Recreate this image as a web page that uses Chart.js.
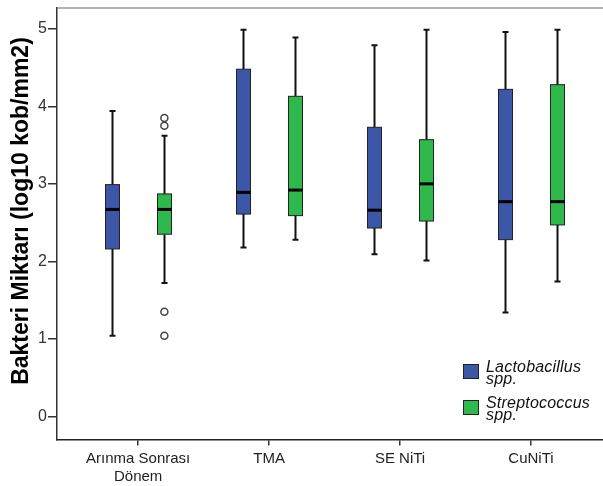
<!DOCTYPE html>
<html lang="tr">
<head>
<meta charset="UTF-8">
<title>Bakteri Miktarı</title>
<script src="https://cdn.jsdelivr.net/npm/chart.js"></script>
<style>
  html, body { margin: 0; padding: 0; background: #fff; overflow: hidden; }
  .wrap { position: relative; width: 603px; height: 486px; }
</style>
</head>
<body>
<div class="wrap"><canvas id="chart"></canvas></div>
<script>
// groups on the x axis
const groups = [['Arınma Sonrası', 'Dönem'], 'TMA', 'SE NiTi', 'CuNiTi'];
const yTicks = [0, 1, 2, 3, 4, 5];

// Lactobacillus spp. (min, Q1, median, Q3, max)
const lactoMin = [1.04, 2.18, 2.09, 1.34];
const lactoQ1  = [2.16, 2.61, 2.43, 2.28];
const lactoMed = [2.67, 2.89, 2.66, 2.77];
const lactoQ3  = [2.99, 4.48, 3.73, 4.22];
const lactoMax = [3.94, 4.99, 4.79, 4.96];

// Streptococcus spp.
const streptoMin = [1.72, 2.28, 2.01, 1.74];
const streptoQ1  = [2.35, 2.59, 2.52, 2.47];
const streptoMed = [2.67, 2.92, 3.00, 2.77];
const streptoQ3  = [2.87, 4.13, 3.57, 4.28];
const streptoMax = [3.62, 4.89, 4.99, 4.99];

// outliers (Streptococcus, first group)
const outlierGroup = [0, 0, 0, 0];
const outlierValue = [3.85, 3.75, 1.35, 1.04];

const series = [
    { name: 'Lactobacillus', sub: 'spp.', color: '#3c56a8', offset: -0.2,
      min: lactoMin, q1: lactoQ1, med: lactoMed, q3: lactoQ3, max: lactoMax },
    { name: 'Streptococcus', sub: 'spp.', color: '#2fb84b', offset: 0.2,
      min: streptoMin, q1: streptoQ1, med: streptoMed, q3: streptoQ3, max: streptoMax }
];

const FONT = '"Liberation Sans", Arial, sans-serif';

const boxPlugin = {
    id: 'boxes',
    afterDatasetsDraw(chart) {
        const ctx = chart.ctx;
        const x = chart.scales.x, y = chart.scales.y;
        const half = 7, cap = 3;
        ctx.save();
        series.forEach(s => {
            groups.forEach((g, i) => {
                const cx = Math.round(x.getPixelForValue(i + s.offset)) + 0.5;
                const pMin = y.getPixelForValue(s.min[i]);
                const pQ1 = y.getPixelForValue(s.q1[i]);
                const pMed = y.getPixelForValue(s.med[i]);
                const pQ3 = y.getPixelForValue(s.q3[i]);
                const pMax = y.getPixelForValue(s.max[i]);

                ctx.strokeStyle = '#111';
                ctx.lineWidth = 2;
                ctx.beginPath();
                ctx.moveTo(cx, pMax); ctx.lineTo(cx, pQ3);
                ctx.moveTo(cx, pQ1); ctx.lineTo(cx, pMin);
                ctx.moveTo(cx - cap, pMax); ctx.lineTo(cx + cap, pMax);
                ctx.moveTo(cx - cap, pMin); ctx.lineTo(cx + cap, pMin);
                ctx.stroke();

                ctx.fillStyle = s.color;
                ctx.fillRect(cx - half, pQ3, half * 2, pQ1 - pQ3);
                ctx.lineWidth = 1;
                ctx.strokeStyle = '#222';
                ctx.strokeRect(cx - half, pQ3, half * 2, pQ1 - pQ3);

                ctx.lineWidth = 3;
                ctx.strokeStyle = '#000';
                ctx.beginPath();
                ctx.moveTo(cx - half, pMed); ctx.lineTo(cx + half, pMed);
                ctx.stroke();
            });
        });
        ctx.restore();
    },
    afterDraw(chart) {
        const ctx = chart.ctx;
        const a = chart.chartArea;
        ctx.save();
        // top frame line
        ctx.strokeStyle = '#9a9a9a';
        ctx.lineWidth = 1.5;
        ctx.beginPath();
        ctx.moveTo(a.left, a.top); ctx.lineTo(a.right, a.top);
        ctx.stroke();

        // y axis title
        ctx.translate(22, 211);
        ctx.rotate(-Math.PI / 2);
        ctx.fillStyle = '#000';
        ctx.font = 'bold 23px ' + FONT;
        ctx.textAlign = 'center';
        ctx.textBaseline = 'middle';
        ctx.fillText('Bakteri Miktarı (log10 kob/mm2)', 0, 0);
        ctx.restore();

        // legend
        ctx.save();
        const rows = [{ top: 364, base: 372 }, { top: 400, base: 408 }];
        series.forEach((s, k) => {
            const r = rows[k];
            ctx.fillStyle = s.color;
            ctx.fillRect(463.5, r.top + 0.5, 15, 14);
            ctx.strokeStyle = '#222';
            ctx.lineWidth = 1;
            ctx.strokeRect(463.5, r.top + 0.5, 15, 14);
            ctx.fillStyle = '#111';
            ctx.font = 'italic 16px ' + FONT;
            ctx.letterSpacing = '0.2px';
            ctx.textAlign = 'left';
            ctx.textBaseline = 'alphabetic';
            ctx.fillText(s.name, 486, r.base);
            ctx.fillText(s.sub, 486, r.base + 12);
        });
        ctx.restore();
    }
};

new Chart(document.getElementById('chart'), {
    type: 'scatter',
    data: {
        datasets: [{
            label: 'Streptococcus spp. outliers',
            data: outlierValue.map((v, k) => ({ x: outlierGroup[k] + series[1].offset, y: v })),
            pointStyle: 'circle',
            pointRadius: 3.5,
            pointBackgroundColor: '#fff',
            pointBorderColor: '#444',
            pointBorderWidth: 1.5
        }]
    },
    options: {
        responsive: true,
        maintainAspectRatio: false,
        animation: false,
        layout: { autoPadding: false, padding: { top: 8, right: 0, left: 0, bottom: 0 } },
        plugins: { legend: { display: false }, tooltip: { enabled: false } },
        scales: {
            x: {
                type: 'linear',
                min: -0.62,
                max: 3.55,
                afterBuildTicks: scale => { scale.ticks = groups.map((g, i) => ({ value: i })); },
                afterFit: scale => { scale.height = 46.5; scale.paddingRight = 0; scale.paddingLeft = 0; },
                grid: { drawOnChartArea: false, tickLength: 6, color: '#333', lineWidth: 1.5 },
                border: { color: '#222', width: 1.5 },
                ticks: {
                    callback: (v, i) => groups[i],
                    font: { family: FONT, size: 15, lineHeight: 1.15 },
                    color: '#222',
                    padding: 5,
                    maxRotation: 0
                }
            },
            y: {
                min: -0.3,
                max: 5.27,
                afterBuildTicks: scale => { scale.ticks = yTicks.map(v => ({ value: v })); },
                afterFit: scale => { scale.width = 57; scale.paddingTop = 0; scale.paddingBottom = 0; },
                grid: { drawOnChartArea: false, tickLength: 9, color: '#333', lineWidth: 1.5 },
                border: { color: '#333', width: 1.5 },
                ticks: {
                    font: { family: FONT, size: 16 },
                    color: '#333',
                    padding: 1
                }
            }
        }
    },
    plugins: [boxPlugin]
});
</script>
</body>
</html>
